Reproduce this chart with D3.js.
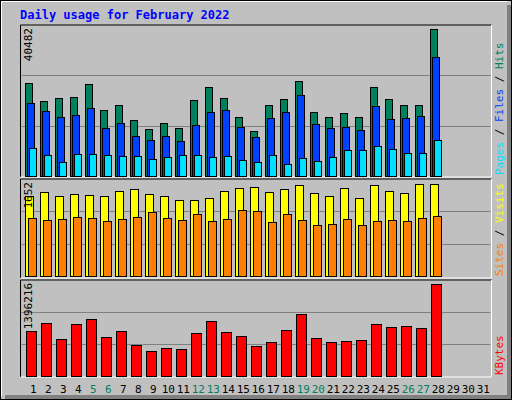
<!DOCTYPE html>
<html><head><meta charset="utf-8">
<script src="https://cdn.jsdelivr.net/npm/d3@7"></script>
<style>body{margin:0;background:#fff}svg{display:block}text{font-family:"DejaVu Sans Mono",monospace}</style>
</head><body><svg id="c" width="512" height="400"></svg>
<script>
const days = d3.range(1, 32);
const weekendDays = [5, 6, 12, 13, 19, 20, 26, 27];
const hits = [25530,20570,21400,21670,25250,18090,19470,15340,12860,14510,13140,20850,24430,21400,16170,12310,19470,21120,26080,17540,16170,17270,16170,24430,21120,19470,19470,40482];
const files = [20020,17820,16170,16720,18640,13140,14510,10930,9830,10930,9560,13960,17540,18090,13410,10660,15890,17540,22220,14240,13140,13410,12590,19200,15620,15890,16440,32690];
const pages = [7630,5700,3770,5980,5980,5700,5430,5430,4600,5150,5700,5700,5150,5430,4320,3770,5700,3220,4870,4050,5150,7080,7080,8180,7350,6250,6250,9830];
const visits = [1437,1509,1437,1473,1455,1437,1527,1563,1473,1437,1365,1365,1401,1527,1581,1598,1509,1563,1634,1491,1437,1581,1401,1634,1527,1491,1652,1652];
const sites = [1042,1006,1024,1060,1042,988,1024,1060,1150,1042,1006,1114,988,1024,1185,1167,970,1114,1006,916,934,1024,916,988,1006,988,1042,1078];
const kbytes = [678000,800000,555000,785000,861000,586000,678000,464000,372000,418000,403000,647000,831000,663000,601000,448000,510000,693000,938000,571000,510000,525000,540000,785000,739000,754000,724000,1396216];
const maxLabels = ["40482", "1652", "1396216"];

const svg = d3.select("#c");
// frame
svg.append("rect").attr("x",0).attr("y",0).attr("width",512).attr("height",400).attr("fill","#fff");
svg.append("rect").attr("x",0.5).attr("y",0.5).attr("width",511).attr("height",399).attr("fill","#c0c0c0").attr("stroke","#000");
svg.append("path").attr("d","M507,5H511V399H5V395H507Z").attr("fill","#808080");
svg.append("path").attr("d","M1.5,396V1.5H507.5").attr("fill","none").attr("stroke","#fff");

svg.append("text").attr("x",20).attr("y",19).attr("fill","#0000ff").attr("font-weight","bold").attr("font-size","12px").text("Daily usage for February 2022");

const x = d3.scaleLinear().domain([1, 2]).range([25.3, 40.3]);
const L = 20.5, R = 491.5;

function panel(top, bottom, baseY, maxY, maxVal, label, series, rightLabels) {
  svg.append("rect").attr("x",L).attr("y",top).attr("width",R-L).attr("height",bottom-top).attr("fill","#c0c0c0");
  svg.append("path").attr("d",`M${L},${bottom}V${top}H${R}`).attr("fill","none").attr("stroke","#000");
  svg.append("path").attr("d",`M${R},${top}V${bottom}H${L}`).attr("fill","none").attr("stroke","#fff");
  const y = d3.scaleLinear().domain([0, maxVal]).range([baseY, maxY]);
  const g3 = (baseY - top) / 3;
  [1, 2].forEach(i => svg.append("line").attr("x1",L+1).attr("x2",R-1).attr("y1",Math.round(baseY-g3*i)+0.5).attr("y2",Math.round(baseY-g3*i)+0.5).attr("stroke","#808080"));
  series.forEach(s => {
    svg.append("g").selectAll("rect").data(s.data).join("rect")
      .attr("x",(d,i)=>Math.round(x(i+1)+s.off)+0.5).attr("width",s.w)
      .attr("y",d=>Math.round(y(d))+0.5).attr("height",d=>Math.round(baseY)-Math.round(y(d)))
      .attr("fill",s.color).attr("stroke","#000");
  });
  svg.append("text").attr("transform",`translate(${32},${top+3}) rotate(-90)`).attr("text-anchor","end")
    .attr("font-size","11px").attr("fill","#000").text(label);
  const t = svg.append("text").attr("transform",`translate(${503},${bottom-2}) rotate(-90)`).attr("font-size","11px");
  rightLabels.forEach((r,i) => t.append("tspan").attr("fill",r[1]).text(r[0]));
}

panel(25, 177, 176, 29, 40482, maxLabels[0], [
  {data:hits, color:"#00805c", off:0, w:7},
  {data:files, color:"#0040ff", off:2, w:7},
  {data:pages, color:"#00e0ff", off:4, w:7}
], [["Pages","#00e0ff"],[" / ","#000"],["Files","#0040ff"],[" / ","#000"],["Hits","#00805c"]]);

panel(179, 278, 276, 184, 1652, maxLabels[1], [
  {data:visits, color:"#ffff00", off:0, w:8},
  {data:sites, color:"#ff8000", off:3, w:8}
], [["Sites","#ff8000"],[" / ","#000"],["Visits","#ffff00"]]);

panel(280, 377, 376, 284, 1396216, maxLabels[2], [
  {data:kbytes, color:"#ff0000", off:1, w:10}
], [["KBytes","#ff0000"]]);

svg.append("g").selectAll("text").data(days).join("text")
  .attr("x",d=>x(d)+8).attr("y",393).attr("text-anchor","middle").attr("font-size","11px")
  .attr("fill",d=>weekendDays.includes(d)?"#00805c":"#000").text(d=>d);
</script></body></html>
